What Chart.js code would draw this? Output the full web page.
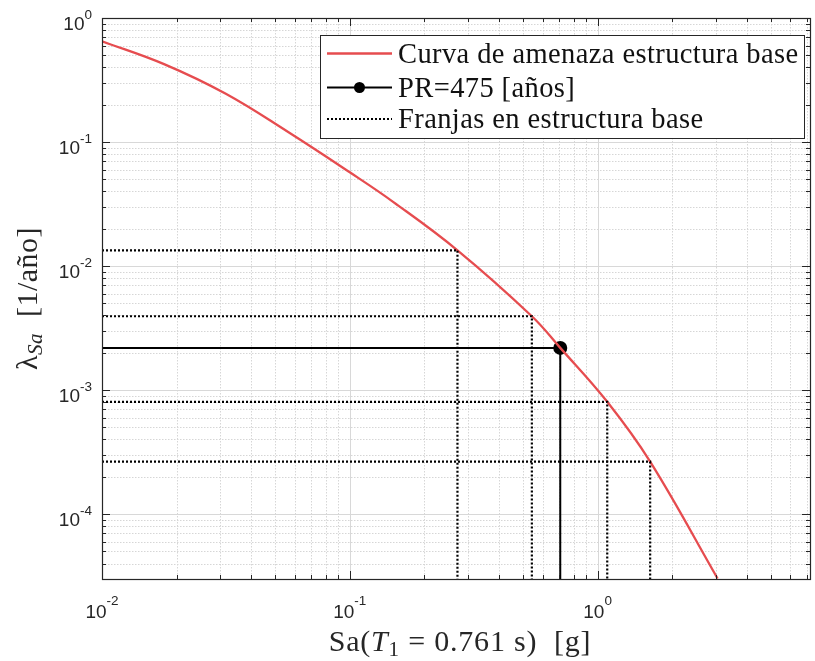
<!DOCTYPE html>
<html>
<head>
<meta charset="utf-8">
<script src="https://cdn.jsdelivr.net/npm/chart.js@4.4.0/dist/chart.umd.min.js"></script>
<style>
  html, body { margin: 0; padding: 0; background: #fff; }
</style>
</head>
<body>
<canvas id="hazardChart" width="815" height="661"></canvas>
<script>
// hazard curve
var curveSa   = [0.01, 0.0178, 0.0316, 0.0562, 0.1, 0.15, 0.272, 0.543, 0.707, 1.094, 1.63, 3.05];
var curveRate = [0.65, 0.425, 0.245, 0.121, 0.0570, 0.0328, 0.0134, 0.00394, 0.00219, 0.000805, 0.000265, 0.0000303];

// franjas
var franjaSa   = [0.272, 0.543, 1.094, 1.63];
var franjaRate = [0.0134, 0.00394, 0.000805, 0.000265];

// PR = 475 years
var prSa = 0.707;
var prRate = 0.00219;

var xMin = 0.01, xMax = 7.2;
var yMin = 3e-5, yMax = 1;
var xTickExp = [-2, -1, 0];
var yTickExp = [0, -1, -2, -3, -4];

var legendLabels = ['Curva de amenaza estructura base', 'PR=475 [años]', 'Franjas en estructura base'];

var red = '#e64c4f';
var axisColor = '#262626';
var serif = '"Liberation Serif", "Times New Roman", serif';
var sans = '"Liberation Sans", Arial, sans-serif';

function xy(xs, ys) {
    var out = [];
    for (var i = 0; i < xs.length; i++) out.push({ x: xs[i], y: ys[i] });
    return out;
}

var datasets = [];
for (var i = 0; i < franjaSa.length; i++) {
    datasets.push({
        data: [{ x: xMin, y: franjaRate[i] }, { x: franjaSa[i], y: franjaRate[i] }, { x: franjaSa[i], y: yMin }],
        borderColor: '#000',
        borderWidth: 2.2,
        borderDash: [2, 2],
        pointRadius: 0,
        fill: false
    });
}
datasets.push({
    data: xy(curveSa, curveRate),
    borderColor: red,
    borderWidth: 2.3,
    pointRadius: 0,
    tension: 0.4,
    fill: false
});
datasets.push({
    data: [{ x: xMin, y: prRate }, { x: prSa, y: prRate }, { x: prSa, y: yMin }],
    borderColor: '#000',
    borderWidth: 2,
    pointRadius: function (c) { return c.dataIndex === 1 ? 6 : 0; },
    pointBackgroundColor: '#000',
    pointBorderColor: '#000',
    fill: false
});

function logValues(lo, hi) {
    var out = [];
    for (var e = -6; e <= 2; e++) {
        for (var m = 1; m < 10; m++) {
            var v = m * Math.pow(10, e);
            if (v >= lo * 0.9999 && v <= hi * 1.0001) out.push({ v: v, major: m === 1 });
        }
    }
    return out;
}

function drawPow(ctx, exp, x, y, mode) {
    var baseFont = '19px ' + sans, expFont = '13.5px ' + sans;
    var e = String(exp);
    ctx.font = baseFont;
    var wb = ctx.measureText('10').width;
    ctx.font = expFont;
    var we = ctx.measureText(e).width;
    var left, baseY, expY;
    if (mode === 'y') {
        left = x - wb - we;
        baseY = y + 12;
        expY = y + 0.5;
    } else {
        left = x - (wb + we) / 2;
        baseY = y + 38.5;
        expY = y + 25.5;
    }
    ctx.fillStyle = axisColor;
    ctx.textAlign = 'left';
    ctx.textBaseline = 'alphabetic';
    ctx.font = baseFont;
    ctx.fillText('10', left, baseY);
    ctx.font = expFont;
    ctx.fillText(e, left + wb, expY);
}

function drawRich(ctx, parts, cx, baseline, spacing) {
    ctx.letterSpacing = (spacing || 0) + 'px';
    var total = 0;
    parts.forEach(function (p) { ctx.font = p.f; p.w = ctx.measureText(p.t).width; total += p.w; });
    var x = cx - total / 2;
    ctx.textAlign = 'left';
    ctx.textBaseline = 'alphabetic';
    parts.forEach(function (p) {
        ctx.font = p.f;
        ctx.fillText(p.t, x, baseline + (p.dy || 0));
        x += p.w;
    });
    ctx.letterSpacing = '0px';
}

var axesPlugin = {
    id: 'matlabAxes',
    beforeDatasetsDraw: function (chart) {
        var ctx = chart.ctx, a = chart.chartArea;
        var sx = chart.scales.x, sy = chart.scales.y;
        ctx.save();
        ctx.lineWidth = 1;
        logValues(xMin, xMax).forEach(function (t) {
            var px = Math.round(sx.getPixelForValue(t.v)) + 0.5;
            ctx.strokeStyle = t.major ? '#d8d8d8' : '#d6d6d6';
            ctx.setLineDash(t.major ? [] : [1.5, 1.5]);
            ctx.beginPath(); ctx.moveTo(px, a.top); ctx.lineTo(px, a.bottom); ctx.stroke();
        });
        logValues(yMin, yMax).forEach(function (t) {
            var py = Math.round(sy.getPixelForValue(t.v)) + 0.5;
            ctx.strokeStyle = t.major ? '#d8d8d8' : '#d6d6d6';
            ctx.setLineDash(t.major ? [] : [1.5, 1.5]);
            ctx.beginPath(); ctx.moveTo(a.left, py); ctx.lineTo(a.right, py); ctx.stroke();
        });
        ctx.restore();
    },
    afterDatasetsDraw: function (chart) {
        var ctx = chart.ctx, a = chart.chartArea;
        var sx = chart.scales.x, sy = chart.scales.y;
        ctx.save();
        ctx.setLineDash([]);
        ctx.strokeStyle = axisColor;
        ctx.lineWidth = 1;
        // ticks inward, all four sides
        logValues(xMin, xMax).forEach(function (t) {
            var px = Math.round(sx.getPixelForValue(t.v)) + 0.5;
            var len = t.major ? 8 : 4;
            ctx.beginPath();
            ctx.moveTo(px, a.bottom); ctx.lineTo(px, a.bottom - len);
            ctx.moveTo(px, a.top); ctx.lineTo(px, a.top + len);
            ctx.stroke();
        });
        logValues(yMin, yMax).forEach(function (t) {
            var py = Math.round(sy.getPixelForValue(t.v)) + 0.5;
            var len = t.major ? 8 : 4;
            ctx.beginPath();
            ctx.moveTo(a.left, py); ctx.lineTo(a.left + len, py);
            ctx.moveTo(a.right, py); ctx.lineTo(a.right - len, py);
            ctx.stroke();
        });
        ctx.lineWidth = 1.2;
        ctx.strokeRect(Math.round(a.left) + 0.5, Math.round(a.top) + 0.5, Math.round(a.right - a.left), Math.round(a.bottom - a.top));

        // tick labels
        xTickExp.forEach(function (e) { drawPow(ctx, e, sx.getPixelForValue(Math.pow(10, e)), a.bottom, 'x'); });
        yTickExp.forEach(function (e) { drawPow(ctx, e, 92, sy.getPixelForValue(Math.pow(10, e)), 'y'); });

        // axis titles
        ctx.fillStyle = axisColor;
        drawRich(ctx, [
            { t: 'Sa(', f: '30px ' + serif },
            { t: 'T', f: 'italic 30px ' + serif },
            { t: '1', f: '21px ' + serif, dy: 5 },
            { t: ' = 0.761 s)  [g]', f: '30px ' + serif }
        ], 460, 651, 0.8);
        ctx.save();
        ctx.translate(37, (a.top + a.bottom) / 2);
        ctx.rotate(-Math.PI / 2);
        drawRich(ctx, [
            { t: 'λ', f: '30px ' + serif },
            { t: 'Sa', f: 'italic 21px ' + serif, dy: 5 },
            { t: '  [1/año]', f: '30px ' + serif }
        ], 0, 0, 0.5);
        ctx.restore();

        // legend
        var bx = 320.5, by = 35.5, bw = 484, bh = 103;
        ctx.fillStyle = '#fff';
        ctx.fillRect(bx, by, bw, bh);
        ctx.strokeStyle = axisColor;
        ctx.lineWidth = 1;
        ctx.strokeRect(bx, by, bw, bh);
        var rows = [53.5, 87.5, 119];
        var x0 = 327, x1 = 392;
        ctx.lineWidth = 2.3;
        ctx.strokeStyle = red;
        ctx.beginPath(); ctx.moveTo(x0, rows[0]); ctx.lineTo(x1, rows[0]); ctx.stroke();
        ctx.lineWidth = 2;
        ctx.strokeStyle = '#000';
        ctx.beginPath(); ctx.moveTo(x0, rows[1]); ctx.lineTo(x1, rows[1]); ctx.stroke();
        ctx.fillStyle = '#000';
        ctx.beginPath(); ctx.arc((x0 + x1) / 2, rows[1], 5.5, 0, Math.PI * 2); ctx.fill();
        ctx.setLineDash([2, 2]);
        ctx.beginPath(); ctx.moveTo(x0, rows[2]); ctx.lineTo(x1, rows[2]); ctx.stroke();
        ctx.setLineDash([]);
        ctx.fillStyle = '#111';
        ctx.font = '28.5px ' + serif;
        ctx.letterSpacing = '0.4px';
        ctx.textAlign = 'left';
        ctx.textBaseline = 'alphabetic';
        legendLabels.forEach(function (s, k) { ctx.fillText(s, 398, rows[k] + 9); });
        ctx.letterSpacing = '0px';
        ctx.restore();
    }
};

new Chart(document.getElementById('hazardChart').getContext('2d'), {
    type: 'line',
    data: { datasets: datasets },
    options: {
        responsive: false,
        animation: false,
        layout: { padding: { left: 0, right: 5, top: 18, bottom: 0 } },
        plugins: { legend: { display: false }, tooltip: { enabled: false } },
        scales: {
            x: {
                type: 'logarithmic', min: xMin, max: xMax,
                grid: { display: false }, border: { display: false },
                ticks: { display: false },
                afterFit: function (s) { s.height = 82; }
            },
            y: {
                type: 'logarithmic', min: yMin, max: yMax,
                grid: { display: false }, border: { display: false },
                ticks: { display: false },
                afterFit: function (s) { s.width = 102; }
            }
        }
    },
    plugins: [axesPlugin]
});
</script>
</body>
</html>
